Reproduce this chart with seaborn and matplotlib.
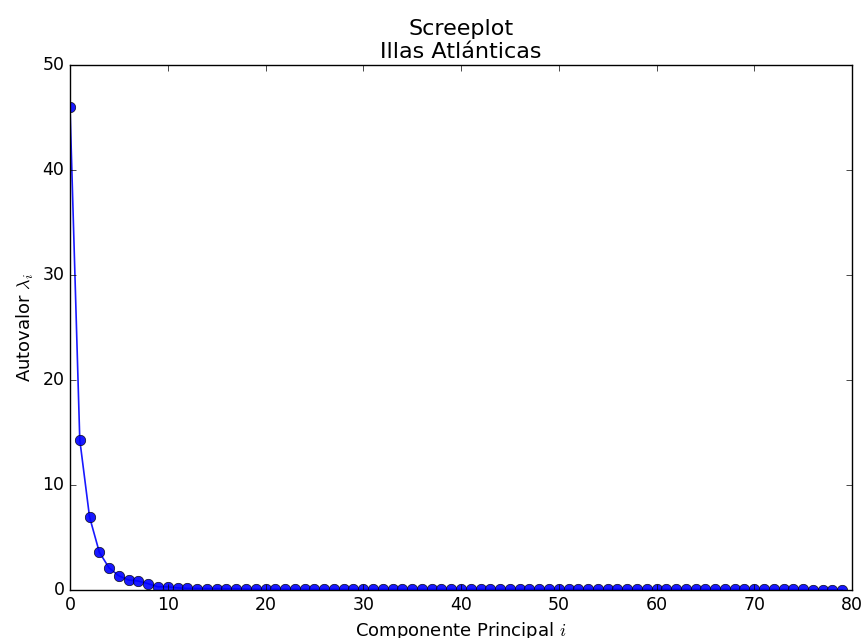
import matplotlib
matplotlib.use("Agg")
import matplotlib.pyplot as plt
import seaborn as sns
import numpy as np
import pandas as pd

componentes = list(range(80))
autovalores = [
    46.0, 14.3, 6.95, 3.6, 2.1, 1.35, 0.95, 0.85, 0.6, 0.3,
    0.3, 0.2, 0.15, 0.14, 0.13, 0.13, 0.12, 0.12, 0.09, 0.08,
    0.08, 0.08, 0.08, 0.07, 0.07, 0.07, 0.07, 0.07, 0.07, 0.07,
    0.07, 0.07, 0.07, 0.07, 0.07, 0.07, 0.07, 0.07, 0.07, 0.07,
    0.07, 0.07, 0.07, 0.07, 0.07, 0.07, 0.07, 0.07, 0.07, 0.07,
    0.07, 0.07, 0.07, 0.07, 0.07, 0.07, 0.07, 0.07, 0.07, 0.07,
    0.07, 0.07, 0.07, 0.07, 0.07, 0.07, 0.07, 0.07, 0.07, 0.07,
    0.07, 0.07, 0.06, 0.06, 0.06, 0.05, 0.04, 0.03, 0.02, 0.01,
]
xticks = [0, 10, 20, 30, 40, 50, 60, 70, 80]
yticks = [0, 10, 20, 30, 40, 50]

plt.style.use("classic")
df = pd.DataFrame({"comp": componentes, "autovalor": autovalores})

fig = plt.figure(figsize=(8.66, 6.38), dpi=100, facecolor="white")
ax = fig.add_axes([70/866, 48/638, 782/866, 525/638])
sns.lineplot(data=df, x="comp", y="autovalor", ax=ax, color="#0000ff",
             marker="o", markersize=7.5, markeredgecolor="black",
             markeredgewidth=0.5, markerfacecolor="#0000ff", linewidth=1.2,
             alpha=0.9)
ax.set_xlim(0, 80)
ax.set_ylim(0, 50)
ax.set_xticks(xticks)
ax.set_yticks(yticks)
ax.tick_params(labelsize=12.5, direction="in", top=True, right=True)
ax.set_xlabel(r"Componente Principal $i$", fontsize=13)
ax.set_ylabel(r"Autovalor $\lambda_i$", fontsize=13)
ax.set_title("Screeplot\nIllas Atlánticas", fontsize=16, linespacing=1.2)
fig.savefig("out.png", dpi=100, facecolor="white")
